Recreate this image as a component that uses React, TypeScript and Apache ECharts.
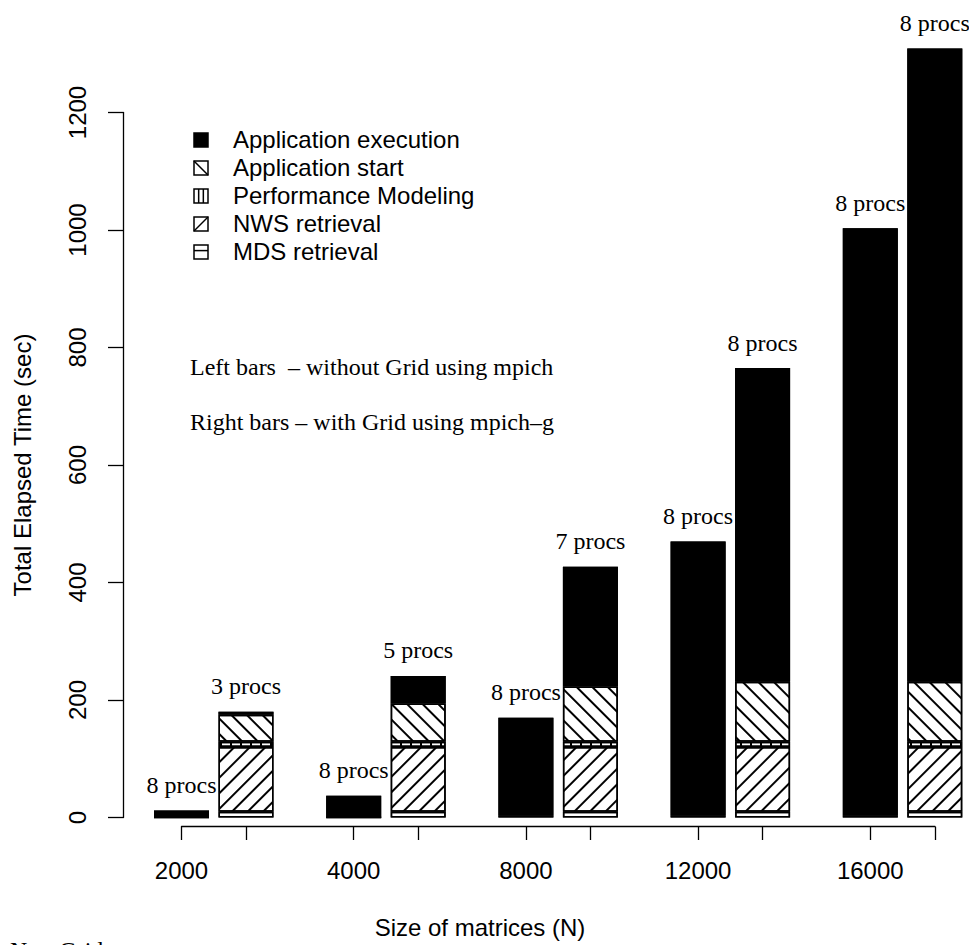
import React, { useEffect, useRef } from 'react';
import * as echarts from 'echarts';

// ---------------- data ----------------
const categories = ['2000', '4000', '8000', '12000', '16000'];
const seriesNames = [
  'Application execution',
  'Application start',
  'Performance Modeling',
  'NWS retrieval',
  'MDS retrieval',
];
// Right bars: with Grid using mpich-g (stacked, bottom to top: MDS, NWS, PM, start, exec)
const rightMDS = [10, 10, 10, 10, 10];
const rightNWS = [110, 110, 110, 110, 110];
const rightPM = [9, 9, 9, 9, 9];
const rightStart = [46, 65, 94, 102, 102];
const rightExec = [5, 47, 204, 534, 1078];
// Left bars: without Grid using mpich
const leftPM = [0, 0, 4, 4, 4];
const leftExec = [12, 37, 166, 466, 999];
const leftProcs = ['8 procs', '8 procs', '8 procs', '8 procs', '8 procs'];
const rightProcs = ['3 procs', '5 procs', '7 procs', '8 procs', '8 procs'];
const yMin = 0;
const yMax = 1200;
const yInterval = 200;

// ---------------- layout ----------------
const W = 969;
const H = 945;
const Y0 = 817.5; // pixel of value 0
const PX = 0.5875; // pixels per second
const barMax = 1360;
const barTop = Y0 - barMax * PX;
const gridBottom = H - Y0;
const groupStep = 172.2;
const spanWidth = groupStep * (categories.length - 1);
const leftGridX = 181.5;
const rightGridX = 246;
const yAxisX = 123;
const xAxisStart = 181.5;
const xAxisEnd = 935;
const xAxisOffset = 9.2;

const SANS = '"Liberation Sans", Arial, Helvetica, sans-serif';
const SERIF = '"Liberation Serif", "Times New Roman", Times, serif';

const decals: Record<string, any> = {
  exec: { symbol: 'rect', color: '#000', backgroundColor: '#000', dashArrayX: [1, 0], dashArrayY: [1, 0] },
  start: { symbol: 'rect', color: '#000', dashArrayX: [1, 0], dashArrayY: [1.5, 8.5], rotation: Math.PI / 4 },
  pm: { symbol: 'rect', color: '#000', dashArrayX: [1.5, 7.5], dashArrayY: [1, 0], rotation: 0 },
  nws: { symbol: 'rect', color: '#010101', dashArrayX: [1, 0], dashArrayY: [1.6, 8.4], rotation: -Math.PI / 4 },
  mds: { symbol: 'rect', color: '#000', dashArrayX: [1, 0], dashArrayY: [1.5, 3.5], rotation: 0 },
};

function itemStyle(key: string) {
  return {
    color: key === 'exec' ? '#000' : '#fff',
    borderColor: '#000',
    borderWidth: 1.5,
    decal: decals[key],
  };
}

function barSeries(name: string, data: number[], key: string, axis: number, stack: string, procs?: string[]) {
  return {
    type: 'bar',
    name,
    data,
    xAxisIndex: axis,
    yAxisIndex: axis,
    stack,
    barWidth: 55,
    clip: false,
    silent: true,
    z: axis === 0 ? 3 : 2,
    itemStyle: itemStyle(key),
    label: procs
      ? {
          show: true,
          position: 'top',
          distance: 13.5,
          formatter: (p: any) => procs[p.dataIndex],
          fontFamily: SERIF,
          fontSize: 24,
          color: '#000',
        }
      : { show: false },
  };
}

// legend built with graphic elements (hatched boxes)
const legendX = 194;
const legendY0 = 140;
const legendDy = 28;
const box = 14;
const legendGraphics = seriesNames.map((name, i) => {
  const cy = legendY0 + i * legendDy;
  const y = cy - box / 2;
  const x = legendX;
  const children: any[] = [
    {
      type: 'rect',
      shape: { x, y, width: box, height: box },
      style: { fill: i === 0 ? '#000' : '#fff', stroke: '#000', lineWidth: 1.5 },
    },
  ];
  const ls = { stroke: '#000', lineWidth: 1.5 };
  if (i === 1) children.push({ type: 'line', shape: { x1: x, y1: y, x2: x + box, y2: y + box }, style: ls });
  if (i === 2) {
    children.push({ type: 'line', shape: { x1: x + box / 3, y1: y, x2: x + box / 3, y2: y + box }, style: ls });
    children.push({ type: 'line', shape: { x1: x + (2 * box) / 3, y1: y, x2: x + (2 * box) / 3, y2: y + box }, style: ls });
  }
  if (i === 3) children.push({ type: 'line', shape: { x1: x, y1: y + box, x2: x + box, y2: y }, style: ls });
  if (i === 4) children.push({ type: 'line', shape: { x1: x, y1: y + box * 0.4, x2: x + box, y2: y + box * 0.4 }, style: ls });
  children.push({
    type: 'text',
    style: {
      text: name,
      x: 233,
      y: cy - 1,
      font: `24px ${SANS}`,
      fill: '#000',
      textAlign: 'left',
      textVerticalAlign: 'middle',
      align: 'left',
      verticalAlign: 'middle',
    },
  });
  return { type: 'group', children };
});

function textEl(text: string, x: number, y: number, font: string, align = 'left', valign = 'middle') {
  return {
    type: 'text',
    style: { text, x, y, font, fill: '#000', textAlign: align, textVerticalAlign: valign, align, verticalAlign: valign },
  };
}

const tickStyle = { show: true, alignWithLabel: true, interval: 0, length: 13.3, lineStyle: { color: '#000', width: 1.3 } };
const hiddenAxis = {
  show: false,
  axisLine: { show: false, onZero: false },
  axisTick: { show: false },
  axisLabel: { show: false },
  splitLine: { show: false },
};

const option: any = {
  animation: false,
  backgroundColor: '#fff',
  aria: { enabled: true, decal: { show: true } },
  grid: [
    { left: leftGridX, width: spanWidth, top: barTop, bottom: gridBottom },
    { left: rightGridX, width: spanWidth, top: barTop, bottom: gridBottom },
    { left: yAxisX, right: W - xAxisEnd, top: Y0 - yMax * PX, bottom: gridBottom },
    { left: xAxisStart, right: W - xAxisEnd, top: Y0 - yMax * PX, bottom: gridBottom },
  ],
  xAxis: [
    {
      gridIndex: 0,
      type: 'category',
      data: categories,
      boundaryGap: false,
      offset: xAxisOffset,
      axisLine: { show: false, onZero: false },
      axisTick: tickStyle,
      axisLabel: { show: true, interval: 0, margin: 32, fontSize: 24, fontFamily: SANS, color: '#000' },
      splitLine: { show: false },
    },
    {
      gridIndex: 1,
      type: 'category',
      data: categories,
      boundaryGap: false,
      offset: xAxisOffset,
      axisLine: { show: false, onZero: false },
      axisTick: tickStyle,
      axisLabel: { show: false },
      splitLine: { show: false },
    },
    { gridIndex: 2, type: 'value', min: 0, max: 1, ...hiddenAxis },
    {
      gridIndex: 3,
      type: 'value',
      min: 0,
      max: 1,
      offset: xAxisOffset,
      axisLine: { show: true, onZero: false, lineStyle: { color: '#000', width: 1.3 } },
      axisTick: { show: false },
      axisLabel: { show: false },
      splitLine: { show: false },
    },
  ],
  yAxis: [
    { gridIndex: 0, type: 'value', min: 0, max: barMax, ...hiddenAxis },
    { gridIndex: 1, type: 'value', min: 0, max: barMax, ...hiddenAxis },
    {
      gridIndex: 2,
      type: 'value',
      min: yMin,
      max: yMax,
      interval: yInterval,
      axisLine: { show: true, onZero: false, lineStyle: { color: '#000', width: 1.3 } },
      axisTick: { show: true, inside: false, length: 15, lineStyle: { color: '#000', width: 1.3 } },
      axisLabel: {
        show: true,
        rotate: 90,
        margin: 34,
        fontSize: 24,
        fontFamily: SANS,
        color: '#000',
        formatter: (v: number) => String(v),
      },
      splitLine: { show: false },
      name: 'Total Elapsed Time (sec)',
      nameLocation: 'middle',
      nameRotate: 90,
      nameGap: 89,
      nameTextStyle: { fontSize: 24, fontFamily: SANS, color: '#000' },
    },
    { gridIndex: 3, type: 'value', min: 0, max: 1, ...hiddenAxis },
  ],
  series: [
    barSeries(seriesNames[2], leftPM, 'pm', 0, 'L'),
    barSeries(seriesNames[0], leftExec, 'exec', 0, 'L', leftProcs),
    barSeries(seriesNames[4], rightMDS, 'mds', 1, 'R'),
    barSeries(seriesNames[3], rightNWS, 'nws', 1, 'R'),
    barSeries(seriesNames[2], rightPM, 'pm', 1, 'R'),
    barSeries(seriesNames[1], rightStart, 'start', 1, 'R'),
    barSeries(seriesNames[0], rightExec, 'exec', 1, 'R', rightProcs),
  ],
  graphic: [
    ...legendGraphics,
    textEl('Left bars  \u2013 without Grid using mpich', 190, 367, `24px ${SERIF}`),
    textEl('Right bars \u2013 with Grid using mpich\u2013g', 190, 422, `24px ${SERIF}`),
    textEl('Size of matrices (N)', 480, 927, `24px ${SANS}`, 'center'),
    textEl('Non-Grid', 10, 938, `24px ${SERIF}`, 'left', 'top'),
  ],
};

export default function App() {
  const ref = useRef<HTMLDivElement>(null);
  useEffect(() => {
    const chart = echarts.init(ref.current!, undefined, { renderer: 'svg' });
    chart.setOption(option);
    return () => chart.dispose();
  }, []);
  return (
    <div
      ref={ref}
      style={{ position: 'fixed', left: 0, top: 0, width: W, height: H, background: '#fff' }}
    />
  );
}
